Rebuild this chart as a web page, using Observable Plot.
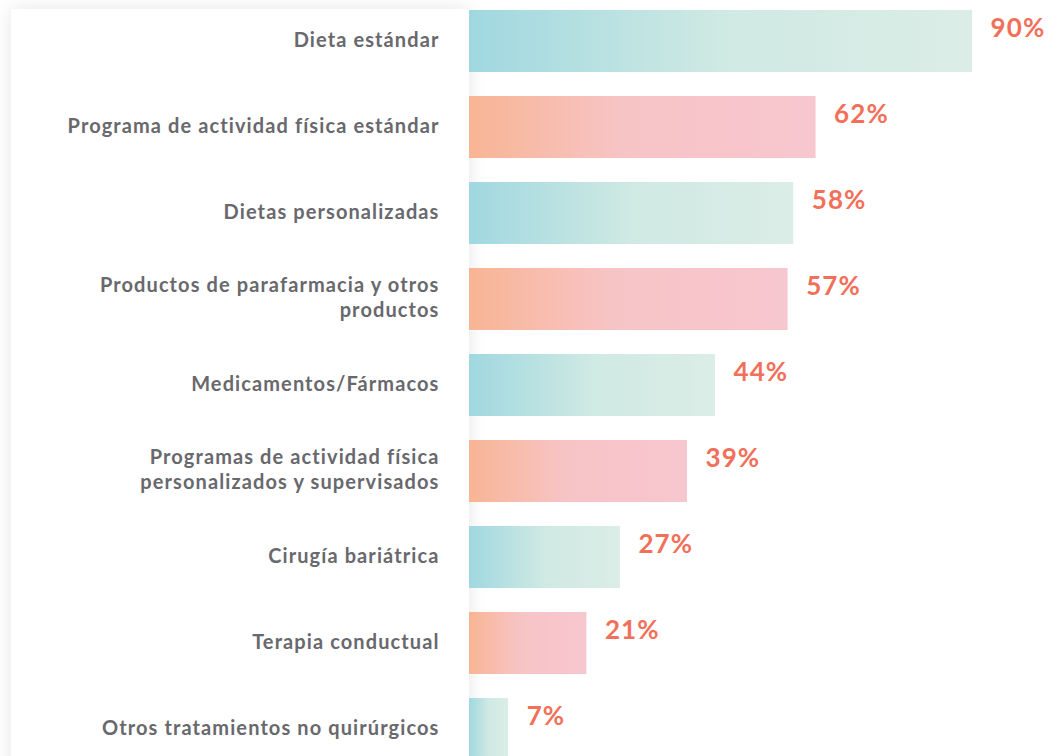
<!DOCTYPE html>
<html>
<head>
<meta charset="utf-8">
<script src="https://cdn.jsdelivr.net/npm/d3@7"></script>
<script src="https://cdn.jsdelivr.net/npm/@observablehq/plot@0.6"></script>
<style>
  html, body { margin: 0; padding: 0; background: #ffffff; }
  #wrap { position: relative; width: 1057px; height: 756px; overflow: hidden; background: #ffffff; }
  #card { position: absolute; left: 11px; top: 9px; width: 458px; height: 800px; background: #ffffff;
          box-shadow: 0 0 18px rgba(0,0,0,0.1); }
  #chart { position: absolute; left: 0; top: 0; }
  #chart svg { background: transparent; }
  #chart svg text { letter-spacing: 1.1px; }
</style>
</head>
<body>
<div id="wrap">
  <div id="card"></div>
  <div id="chart"></div>
</div>
<script>
const categories = [
  "Dieta estándar",
  "Programa de actividad física estándar",
  "Dietas personalizadas",
  "Productos de parafarmacia y otros productos",
  "Medicamentos/Fármacos",
  "Programas de actividad física personalizados y supervisados",
  "Cirugía bariátrica",
  "Terapia conductual",
  "Otros tratamientos no quirúrgicos"
];
const tickLabels = [
  "Dieta estándar",
  "Programa de actividad física estándar",
  "Dietas personalizadas",
  "Productos de parafarmacia y otros\nproductos",
  "Medicamentos/Fármacos",
  "Programas de actividad física\npersonalizados y supervisados",
  "Cirugía bariátrica",
  "Terapia conductual",
  "Otros tratamientos no quirúrgicos"
];
const values = [90, 62, 58, 57, 44, 39, 27, 21, 7];

const data = categories.map((c, i) => ({category: c, value: values[i], label: tickLabels[i], idx: i}));

const defs = () => {
  const d = d3.create("svg:defs");
  const g1 = d.append("linearGradient").attr("id", "gradTeal").attr("x1", "0").attr("x2", "1").attr("y1", "0").attr("y2", "0");
  g1.append("stop").attr("offset", "0%").attr("stop-color", "#a0d8e0");
  g1.append("stop").attr("offset", "50%").attr("stop-color", "#cfe9e3");
  g1.append("stop").attr("offset", "100%").attr("stop-color", "#dbede6");
  const g2 = d.append("linearGradient").attr("id", "gradCoral").attr("x1", "0").attr("x2", "1").attr("y1", "0").attr("y2", "0");
  g2.append("stop").attr("offset", "0%").attr("stop-color", "#f8b594");
  g2.append("stop").attr("offset", "45%").attr("stop-color", "#f7c4c6");
  g2.append("stop").attr("offset", "100%").attr("stop-color", "#f7c7cf");
  return d.node();
};

const plot = Plot.plot({
  width: 1057,
  height: 756,
  marginLeft: 469,
  marginRight: 29,
  marginTop: 9,
  marginBottom: 0,
  style: {background: "transparent", fontFamily: "Lato, sans-serif"},
  x: {domain: [0, 100], axis: null},
  y: {domain: categories, range: [9, 760], paddingInner: 0.28, paddingOuter: 0, axis: null},
  marks: [
    defs,
    Plot.barX(data.filter(d => d.idx % 2 === 0), {x: "value", y: "category", fill: "url(#gradTeal)"}),
    Plot.barX(data.filter(d => d.idx % 2 === 1), {x: "value", y: "category", fill: "url(#gradCoral)"}),
    Plot.text(data, {
      x: 0, y: "category", text: "label", textAnchor: "end", dx: -30, dy: -3,
      fill: "#68686d", fontSize: 20, fontWeight: 700, lineHeight: 1.25
    }),
    Plot.text(data, {
      x: "value", y: "category", text: d => d.value + "%", textAnchor: "start", dx: 18, dy: -13,
      fill: "#f2705a", fontSize: 26, fontWeight: 700
    })
  ]
});
document.getElementById("chart").appendChild(plot);
</script>
</body>
</html>
